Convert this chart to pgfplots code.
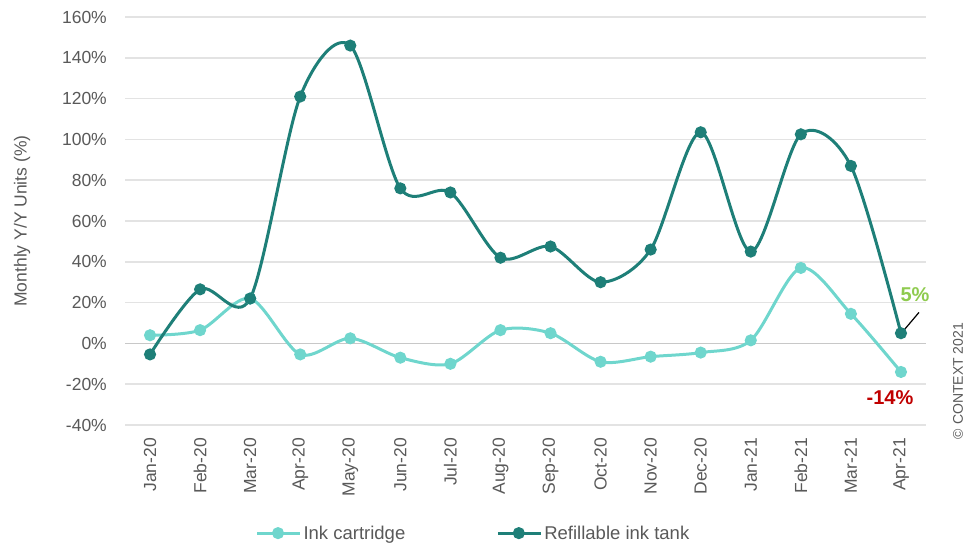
\documentclass[border=0pt]{standalone}
\usepackage{pgfplots}
\pgfplotsset{compat=1.18}
\usepackage{fontspec}
\setmainfont{Liberation Sans}
\definecolor{cart}{HTML}{6FD6CD}
\definecolor{tank}{HTML}{1E7F78}
\definecolor{txt}{HTML}{595959}
\definecolor{gridc}{HTML}{E3E3E3}
\definecolor{zeroc}{HTML}{C8C8C8}
\definecolor{fivec}{HTML}{8FCB4F}
\definecolor{redc}{HTML}{C00000}
\begin{document}
\begin{tikzpicture}
\path[use as bounding box] (0pt,0pt) rectangle (980pt,550pt);
\begin{axis}[
  at={(125pt,125pt)}, anchor=south west,
  scale only axis, width=801pt, height=408pt,
  xmin=-0.5, xmax=15.5, ymin=-40, ymax=160,
  xtick={0,...,15},
  xticklabels={Jan-20,Feb-20,Mar-20,Apr-20,May-20,Jun-20,Jul-20,Aug-20,Sep-20,Oct-20,Nov-20,Dec-20,Jan-21,Feb-21,Mar-21,Apr-21},
  xticklabel style={rotate=90, anchor=east, inner sep=0pt, xshift=-13pt},
  ytick={-40,-20,...,160},
  yticklabel={\pgfmathprintnumber[assume math mode=true]{\tick}\%},
  yticklabel style={anchor=east, inner sep=0pt, xshift=-18pt},
  every tick label/.append style={font=\fontsize{17.5}{20}\selectfont, text=txt},
  axis line style={draw=none},
  major tick length=0pt,
  ymajorgrids, grid style={gridc, line width=1.5pt},
  clip=false,
  legend columns=2,
  legend style={at={(axis description cs:0.435,-0.265)}, anchor=center, draw=none, fill=none,
    font=\fontsize{18.5}{21}\selectfont, text=txt, /tikz/every even column/.append style={column sep=89pt}},
  legend image code/.code={\draw[#1, mark repeat=2, mark phase=2] plot coordinates {(0pt,0pt) (21pt,0pt) (43pt,0pt)};},
]
\draw[zeroc, line width=1.5pt] (axis cs:-0.5,0) -- (axis cs:15.5,0);
\addplot[cart, line width=3pt, smooth, tension=0.5, mark=*, mark size=4.5pt, mark options={fill=cart, draw=cart}]
coordinates {(0,4) (1,6.5) (2,22) (3,-5.4) (4,2.5) (5,-7) (6,-10) (7,6.5) (8,5) (9,-9) (10,-6.5) (11,-4.5) (12,1.5) (13,37) (14,14.5) (15,-14)};
\addlegendentry{Ink cartridge}
\addplot[tank, line width=3pt, smooth, tension=0.5, mark=*, mark size=4.5pt, mark options={fill=tank, draw=tank}]
coordinates {(0,-5.4) (1,26.5) (2,22) (3,121) (4,146) (5,76) (6,74) (7,42) (8,47.5) (9,30) (10,46) (11,103.5) (12,45) (13,102.5) (14,87) (15,5)};
\addlegendentry{Refillable ink tank}
\draw[black, line width=1.2pt] (axis cs:15.06,6.5) -- (axis cs:15.36,15.2);
\node[font=\bfseries\fontsize{20}{22}\selectfont, text=fivec, anchor=center] at (axis cs:15.28,24) {5\%};
\node[font=\bfseries\fontsize{20}{22}\selectfont, text=redc, anchor=center] at (axis cs:14.78,-26.5) {-14\%};
\end{axis}
\node[rotate=90, font=\fontsize{17.5}{20}\selectfont, text=txt] at (22pt,329pt) {Monthly Y/Y Units (\%)};
\node[rotate=90, font=\fontsize{14}{16}\selectfont, text=txt] at (958pt,169pt) {© CONTEXT 2021};
\end{tikzpicture}
\end{document}
